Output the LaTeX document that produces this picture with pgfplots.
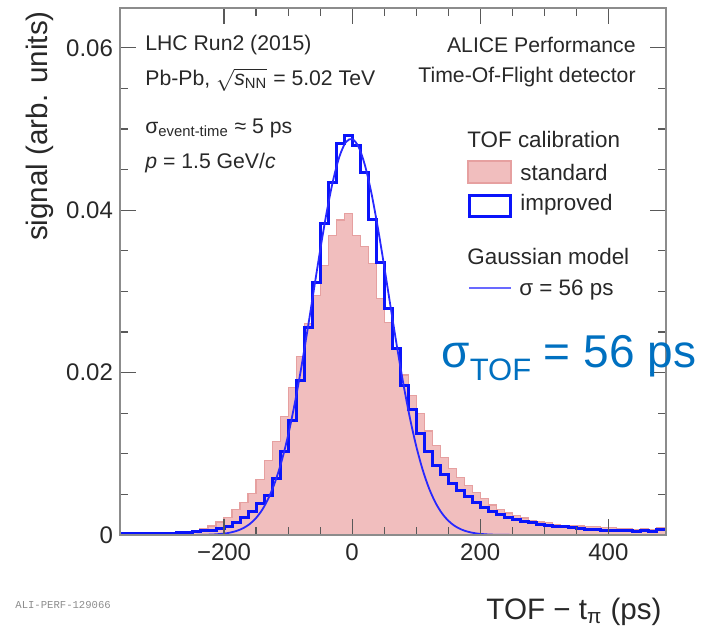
\documentclass[border=0pt]{standalone}
\usepackage{fontspec}
\usepackage{amsmath}
\usepackage{xcolor}
\usepackage{pgfplots}
\pgfplotsset{compat=1.18}
\setmainfont{Liberation Sans}
\setmonofont{Liberation Mono}
\definecolor{redfill}{RGB}{241,190,190}
\definecolor{redline}{RGB}{230,160,160}
\definecolor{histblue}{RGB}{10,20,250}
\definecolor{gausblue}{RGB}{40,40,255}
\definecolor{tofblue}{RGB}{0,112,192}
\definecolor{txt}{RGB}{40,40,40}
\tikzset{ref/.style={x=0.5pt,y=-0.5pt,shift={(-60pt,267.5pt)}}}
\begin{document}
\begin{tikzpicture}
\begin{axis}[at={(0,0)}, anchor=south west, scale only axis,
  width=273pt, height=263.5pt,
  xmin=-362.5, xmax=490, ymin=0, ymax=0.0649,
  axis on top,
  scaled y ticks=false,
  axis line style={black!45, line width=0.9pt},
  tick style={black!65, line width=0.6pt},
  tick align=inside,
  major tick length=8pt, minor tick length=4pt,
  xtick={-200,0,200,400}, xticklabels={−200,0,200,400},
  minor x tick num=3,
  ytick={0,0.02,0.04,0.06}, yticklabels={0,0.02,0.04,0.06},
  minor y tick num=3,
  /pgf/number format/assume math mode=true,
  tick label style={font=\fontsize{12}{12}\selectfont, text=txt},
  xticklabel style={yshift=-1pt},
]
% standard calibration (red filled histogram), left bin edges
\addplot[const plot mark left, fill=redfill, draw=redline, line width=0.6pt] coordinates {
(-362.5,0.0001) (-350,0.0001) (-337.5,0.0001) (-325,0.0001) (-312.5,0.0002)
(-300,0.0002) (-287.5,0.0002) (-275,0.0003) (-262.5,0.0004) (-250,0.0006)
(-237.5,0.0008) (-225,0.0011) (-212.5,0.0016) (-200,0.0022) (-187.5,0.0031)
(-175,0.0040) (-162.5,0.0051) (-150,0.0068) (-137.5,0.0092) (-125,0.0115)
(-112.5,0.0146) (-100,0.0182) (-87.5,0.0220) (-75,0.0260) (-62.5,0.0295)
(-50,0.0332) (-37.5,0.0369) (-25,0.0388) (-12.5,0.0396) (0,0.0369)
(12.5,0.0355) (25,0.0334) (37.5,0.0291) (50,0.0262) (62.5,0.0228)
(75,0.0197) (87.5,0.0172) (100,0.0150) (112.5,0.0128) (125,0.0110)
(137.5,0.0095) (150,0.0082) (162.5,0.0071) (175,0.0061) (187.5,0.0052)
(200,0.0045) (212.5,0.0037) (225,0.0031) (237.5,0.0027) (250,0.0024)
(262.5,0.0021) (275,0.0018) (287.5,0.0016) (300,0.0015) (312.5,0.0013)
(325,0.0012) (337.5,0.0011) (350,0.0011) (362.5,0.0010) (375,0.0010)
(387.5,0.0009) (400,0.0009) (412.5,0.0008) (425,0.0008) (437.5,0.0007)
(450,0.0008) (462.5,0.0007) (475,0.0009) (490,0.0009)
} \closedcycle;
% improved calibration (blue histogram)
\addplot[const plot mark left, draw=histblue, line width=1.5pt] coordinates {
(-362.5,0.0002) (-350,0.0002) (-337.5,0.0002) (-325,0.0002) (-312.5,0.0002)
(-300,0.0002) (-287.5,0.0002) (-275,0.0003) (-262.5,0.0003) (-250,0.0004)
(-237.5,0.0005) (-225,0.0006) (-212.5,0.0008) (-200,0.0011) (-187.5,0.0015)
(-175,0.0021) (-162.5,0.0029) (-150,0.0039) (-137.5,0.0049) (-125,0.0070)
(-112.5,0.0103) (-100,0.0141) (-87.5,0.0190) (-75,0.0256) (-62.5,0.0311)
(-50,0.0383) (-37.5,0.0434) (-25,0.0482) (-12.5,0.0492) (0,0.0480)
(12.5,0.0447) (25,0.0389) (37.5,0.0336) (50,0.0279) (62.5,0.0230)
(75,0.0184) (87.5,0.0154) (100,0.0125) (112.5,0.0103) (125,0.0086)
(137.5,0.0074) (150,0.0063) (162.5,0.0055) (175,0.0047) (187.5,0.0040)
(200,0.0034) (212.5,0.0029) (225,0.0025) (237.5,0.0022) (250,0.0019)
(262.5,0.0017) (275,0.0015) (287.5,0.0013) (300,0.0012) (312.5,0.0011)
(325,0.0010) (337.5,0.0009) (350,0.0008) (362.5,0.0007) (375,0.0007)
(387.5,0.0005) (400,0.0006) (412.5,0.0005) (425,0.0005) (437.5,0.0004)
(450,0.0005) (462.5,0.0004) (475,0.0007) (490,0.0007)
};
% Gaussian model
\addplot[smooth, draw=gausblue, line width=0.9pt] coordinates {
(-362.5,0) (-300,0) (-250,0.000007) (-220,0.000053) (-200,0.000175)
(-190,0.000305) (-180,0.000515) (-170,0.000847) (-160,0.001352)
(-150,0.002099) (-140,0.003166) (-130,0.004639) (-120,0.006604)
(-110,0.009135) (-100,0.01228) (-90,0.01605) (-80,0.02036) (-70,0.02512)
(-60,0.03010) (-50,0.03505) (-40,0.03966) (-30,0.04360) (-20,0.04658)
(-10,0.04836) (0,0.04877) (10,0.04780) (20,0.04552) (30,0.04212)
(40,0.03788) (50,0.03310) (60,0.02809) (70,0.02318) (80,0.01858)
(90,0.01447) (100,0.01095) (110,0.008052) (120,0.005753) (130,0.003995)
(140,0.002695) (150,0.001767) (160,0.001125) (170,0.000696) (180,0.000419)
(190,0.000245) (200,0.000139) (220,0.000041) (264,0)
};
\end{axis}
\begin{scope}[ref]
% annotations
\node[anchor=west, text=txt, font=\fontsize{10.6}{12}\selectfont, inner sep=0pt] at (145,45) {LHC Run2 (2015)};
\node[anchor=west, text=txt, font=\fontsize{10.6}{12}\selectfont, inner sep=0pt] at (145,79) {Pb-Pb, $\smash{\sqrt{\text{\textit{s}}_{\text{NN}}}}$ = 5.02 TeV};
\node[anchor=west, text=txt, font=\fontsize{10.6}{12}\selectfont, inner sep=0pt] at (145,128) {σ\textsubscript{event-time} ≈ 5 ps};
\node[anchor=west, text=txt, font=\fontsize{10.6}{12}\selectfont, inner sep=0pt] at (145,163) {\textit{p} = 1.5 GeV/\textit{c}};
\node[anchor=east, text=txt, font=\fontsize{10.6}{12}\selectfont, inner sep=0pt] at (636,45) {ALICE Performance};
\node[anchor=east, text=txt, font=\fontsize{10.6}{12}\selectfont, inner sep=0pt] at (636,77) {Time-Of-Flight detector};
% legend
\node[anchor=west, text=txt, font=\fontsize{11.2}{12}\selectfont, inner sep=0pt] at (467,139) {TOF calibration};
\fill[redfill, draw=redline, line width=0.6pt] (468,161) rectangle (511,183);
\node[anchor=west, text=txt, font=\fontsize{11.2}{12}\selectfont, inner sep=0pt] at (520,172) {standard};
\draw[histblue, line width=1.5pt] (469,195) rectangle (510,216);
\node[anchor=west, text=txt, font=\fontsize{11.2}{12}\selectfont, inner sep=0pt] at (520,205) {improved};
\node[anchor=west, text=txt, font=\fontsize{11.2}{12}\selectfont, inner sep=0pt] at (467,256) {Gaussian model};
\draw[gausblue!70, line width=1pt] (469,288) -- (511,288);
\node[anchor=west, text=txt, font=\fontsize{11.2}{12}\selectfont, inner sep=0pt] at (519,290) {σ = 56 ps};
% big label
\node[anchor=base west, text=tofblue, font=\fontsize{23}{24}\selectfont, inner sep=0pt] at (441,367) {σ\raisebox{-6.5pt}{\fontsize{15.5}{16}\selectfont TOF} = 56 ps};
% axis titles
\node[anchor=east, text=txt, font=\fontsize{14.8}{16}\selectfont, inner sep=0pt] at (662,612) {TOF − t\textsubscript{π} (ps)};
\node[rotate=90, text=txt, font=\fontsize{14.8}{16}\selectfont, inner sep=0pt] at (40,126) {signal (arb. units)};
\node[anchor=west, text=black!45, font=\ttfamily\fontsize{5.3}{6}\selectfont, inner sep=0pt] at (15,605) {ALI-PERF-129066};
\pgfresetboundingbox
\useasboundingbox (0,0) rectangle (719,634);
\end{scope}
\end{tikzpicture}
\end{document}
